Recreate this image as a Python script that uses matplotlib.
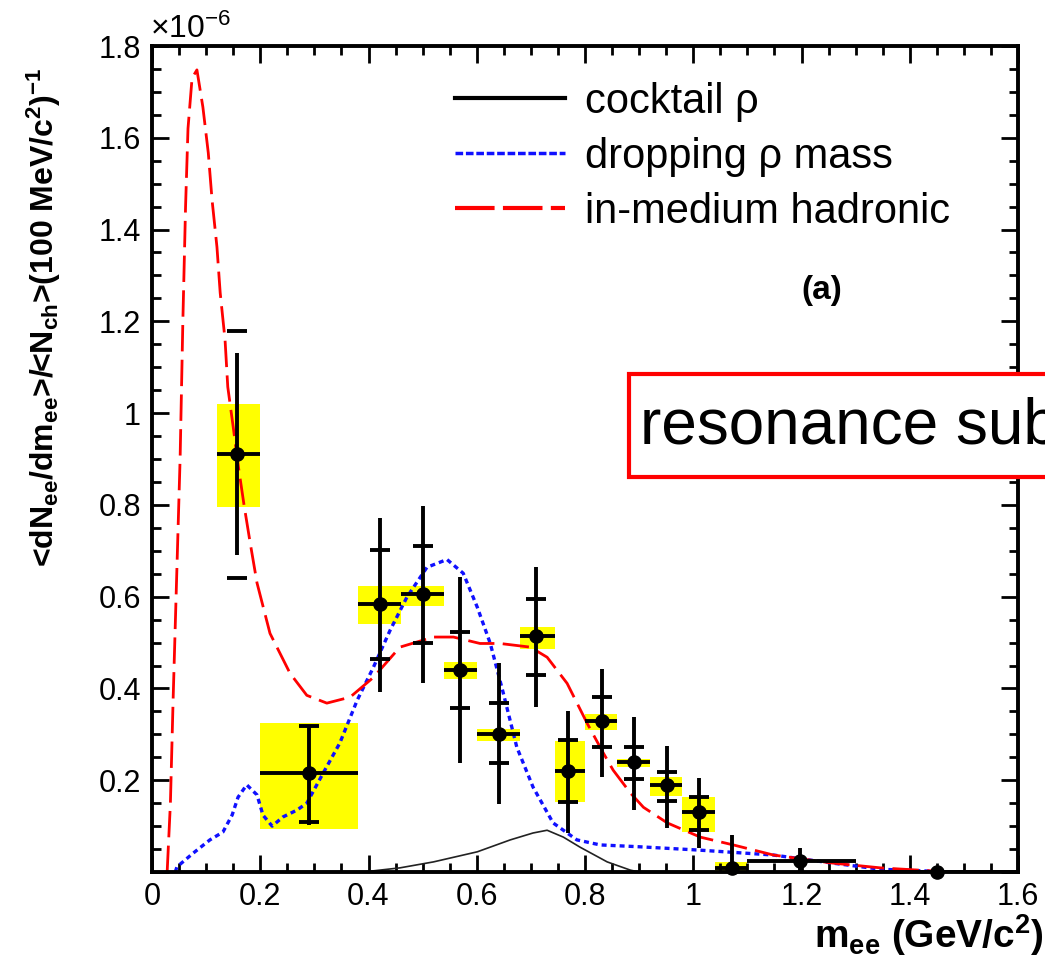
import numpy as np
import matplotlib.pyplot as plt
from matplotlib.lines import Line2D
from matplotlib.patches import Rectangle

plt.rcParams['font.family'] = ['Liberation Sans', 'DejaVu Sans']
plt.rcParams['mathtext.default'] = 'regular'

# e+e- yield per mass bin, in units of 1e-6
bin_lo = np.array([0.12, 0.20, 0.38, 0.46, 0.54, 0.60, 0.68, 0.745, 0.80, 0.86, 0.92, 0.98, 1.04, 1.10, 1.30])
bin_hi = np.array([0.20, 0.38, 0.46, 0.54, 0.60, 0.68, 0.745, 0.80, 0.86, 0.92, 0.98, 1.04, 1.10, 1.30, 1.60])
m_pt = np.array([0.157, 0.29, 0.421, 0.50, 0.569, 0.641, 0.71, 0.769, 0.832, 0.891, 0.952, 1.011, 1.072, 1.198, 1.45])
dn = np.array([0.91, 0.215, 0.585, 0.605, 0.44, 0.30, 0.515, 0.22, 0.33, 0.24, 0.19, 0.13, 0.009, 0.023, 0.0])

# statistical error bars (full vertical line)
stat_lo = np.array([0.69, 0.102, 0.392, 0.411, 0.237, 0.148, 0.359, 0.085, 0.207, 0.135, 0.096, 0.052, 0.0, 0.0, 0.0])
stat_hi = np.array([1.13, 0.318, 0.771, 0.797, 0.642, 0.455, 0.664, 0.35, 0.442, 0.337, 0.274, 0.205, 0.08, 0.052, 0.0])
# short horizontal markers on the error bars
tick_lo = np.array([0.64, 0.108, 0.464, 0.499, 0.357, 0.237, 0.429, 0.152, 0.272, 0.202, 0.155, 0.091, np.nan, np.nan, np.nan])
tick_hi = np.array([1.18, 0.318, 0.701, 0.71, 0.522, 0.368, 0.594, 0.287, 0.381, 0.272, 0.218, 0.163, np.nan, np.nan, np.nan])
# systematic boxes
sys_lo = np.array([0.795, 0.094, 0.540, 0.579, 0.42, 0.285, 0.485, 0.152, 0.309, 0.229, 0.165, 0.087, -0.005, 0.021, -0.004])
sys_hi = np.array([1.02, 0.324, 0.623, 0.623, 0.457, 0.311, 0.533, 0.285, 0.344, 0.246, 0.207, 0.163, 0.022, 0.025, 0.004])

# model curves
cocktail_m = [0.39, 0.458, 0.52, 0.601, 0.662, 0.704, 0.730, 0.760, 0.791, 0.841, 0.884, 0.90]
cocktail_y = [0.0, 0.009, 0.022, 0.044, 0.07, 0.085, 0.091, 0.076, 0.054, 0.022, 0.004, 0.0]

drop_m = [0.043, 0.046, 0.076, 0.107, 0.131, 0.148, 0.159, 0.175, 0.194, 0.205, 0.222, 0.242, 0.268,
          0.286, 0.316, 0.347, 0.379, 0.409, 0.44, 0.471, 0.508, 0.545, 0.575, 0.601, 0.625, 0.649,
          0.674, 0.704, 0.741, 0.785, 0.828, 0.90, 1.007, 1.148, 1.253, 1.346, 1.48]
drop_y = [0.0, 0.011, 0.041, 0.07, 0.087, 0.124, 0.163, 0.19, 0.168, 0.124, 0.1, 0.12, 0.135,
          0.15, 0.215, 0.281, 0.374, 0.446, 0.527, 0.599, 0.664, 0.681, 0.651, 0.577, 0.498, 0.39,
          0.272, 0.185, 0.107, 0.07, 0.059, 0.055, 0.048, 0.037, 0.02, 0.006, 0.0]

hadr_m = [0.028, 0.034, 0.039, 0.045, 0.052, 0.057, 0.062, 0.0665, 0.074, 0.083, 0.094, 0.104, 0.111,
          0.120, 0.126, 0.135, 0.140, 0.150, 0.160, 0.170, 0.181, 0.194, 0.218, 0.255, 0.286, 0.323,
          0.366, 0.409, 0.458, 0.52, 0.557, 0.606, 0.643, 0.699, 0.73, 0.767, 0.804, 0.834, 0.852,
          0.884, 0.908, 0.952, 1.013, 1.074, 1.148, 1.253, 1.346, 1.475]
hadr_y = [0.0, 0.15, 0.375, 0.62, 0.904, 1.2, 1.45, 1.62, 1.73, 1.748, 1.667, 1.567, 1.464,
          1.362, 1.262, 1.159, 1.057, 0.97, 0.88, 0.80, 0.72, 0.63, 0.52, 0.433, 0.385, 0.368,
          0.381, 0.424, 0.49, 0.512, 0.512, 0.498, 0.498, 0.49, 0.468, 0.411, 0.324, 0.259, 0.222,
          0.172, 0.141, 0.107, 0.076, 0.059, 0.037, 0.02, 0.009, 0.0]

x_ticks = [0, 0.2, 0.4, 0.6, 0.8, 1.0, 1.2, 1.4, 1.6]
x_labels = ['0', '0.2', '0.4', '0.6', '0.8', '1', '1.2', '1.4', '1.6']
y_ticks = [0, 0.2, 0.4, 0.6, 0.8, 1.0, 1.2, 1.4, 1.6, 1.8]
y_labels = ['', '0.2', '0.4', '0.6', '0.8', '1', '1.2', '1.4', '1.6', '1.8']

W, H = 1045, 963
fig = plt.figure(figsize=(W / 100, H / 100), dpi=100)
ax = fig.add_axes([152 / W, 1 - 872 / H, (1018 - 152) / W, (872 - 46) / H])

# systematic boxes
ax.bar(bin_lo, sys_hi - sys_lo, width=bin_hi - bin_lo, bottom=sys_lo, align='edge',
       color='#ffff00', linewidth=0, zorder=1)

# model curves
ax.plot(cocktail_m, cocktail_y, color='#222222', lw=1.2, zorder=2)
ax.plot(drop_m, drop_y, color='#1010ff', lw=2.4, dashes=(1.5, 1.2), zorder=2)
ax.plot(hadr_m, hadr_y, color='#ff0000', lw=2.0, dashes=(9.5, 3), zorder=2)

# data with bin width and statistical errors
ax.errorbar(m_pt, dn, xerr=[m_pt - bin_lo, bin_hi - m_pt], yerr=[dn - stat_lo, stat_hi - dn],
            fmt='none', ecolor='black', elinewidth=2.8, capsize=0, zorder=3)
ax.plot(m_pt, tick_lo, '_', color='black', ms=14, mew=2.8, zorder=3)
ax.plot(m_pt, tick_hi, '_', color='black', ms=14, mew=2.8, zorder=3)
ax.plot(m_pt, dn, 'o', color='black', ms=9.5, zorder=4, clip_on=False)

ax.set_xlim(0, 1.6)
ax.set_ylim(0, 1.8)
ax.set_xticks(x_ticks)
ax.set_xticklabels(x_labels)
ax.set_yticks(y_ticks)
ax.set_yticklabels(y_labels)
ax.set_xticks(np.arange(0, 1.61, 0.05), minor=True)
ax.set_yticks(np.arange(0, 1.81, 0.05), minor=True)
ax.tick_params(which='both', direction='in', top=True, right=True, width=2)
ax.tick_params(which='major', length=12, labelsize=22)
ax.tick_params(which='minor', length=6.5)
ax.tick_params(axis='x', pad=7)
ax.tick_params(axis='y', pad=8)
for sp in ax.spines.values():
    sp.set_linewidth(2.8)

# legend
handles = [Line2D([], [], color='black', lw=3),
           Line2D([], [], color='#1010ff', lw=2.5, dashes=(2.2, 0.8)),
           Line2D([], [], color='#ff0000', lw=3, dashes=(9.5, 2))]
labels = ['cocktail ρ', 'dropping ρ mass', 'in-medium hadronic']
ax.legend(handles, labels, loc='upper left', bbox_to_anchor=(455 / W, 1 - 82 / H),
          bbox_transform=fig.transFigure, frameon=False, fontsize=30,
          handlelength=2.65, handletextpad=0.48, labelspacing=0.36,
          borderpad=0, borderaxespad=0)

fig.text(822 / W, 1 - 290 / H, '(a)', fontsize=24, fontweight='bold', ha='center', va='center')
fig.text(150 / W, 1 - 38 / H, '×10$^{-6}$', fontsize=23, ha='left', va='baseline')

fig.text(1044 / W, 1 - 948 / H, 'm$_{ee}$ (GeV/c$^{2}$)', fontsize=28, fontweight='bold',
         ha='right', va='baseline')
fig.text(44 / W, 1 - 317 / H, '<dN$_{ee}$/dm$_{ee}$>/<N$_{ch}$>(100 MeV/c$^{2}$)$^{-1}$',
         fontsize=23, fontweight='bold', rotation=90, ha='center', va='center')

# label box on the right
box = Rectangle((629 / W, 1 - 477 / H), 0.5, (477 - 374) / H, transform=fig.transFigure,
                facecolor='white', edgecolor='#ff0000', lw=3, zorder=10)
fig.add_artist(box)
fig.text(640 / W, 1 - 443 / H, 'resonance sub', fontsize=46, ha='left', va='baseline', zorder=11)

fig.savefig('out.png', dpi=100)
